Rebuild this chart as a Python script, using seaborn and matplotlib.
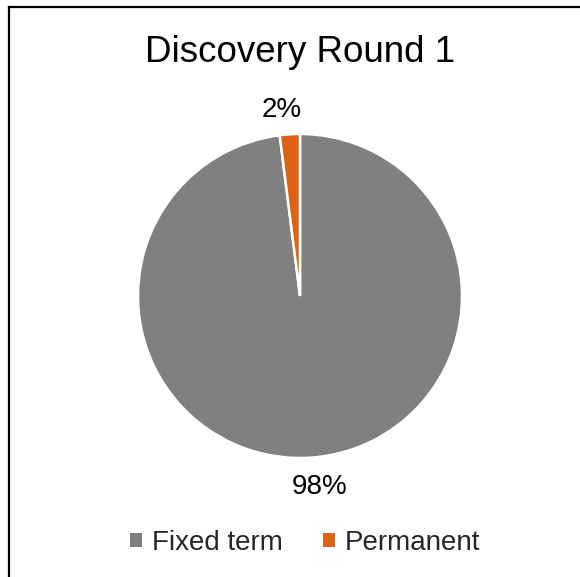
import matplotlib
matplotlib.use("Agg")
import matplotlib.pyplot as plt
from matplotlib.patches import Patch
from matplotlib.lines import Line2D
import seaborn as sns

# Contract type split for the first discovery round
categories = ["Fixed term", "Permanent"]
shares = [98, 2]
colors = ["#808080", "#DC6218"]
title = "Discovery Round 1"

sns.set_theme(style="white")
plt.rcParams["font.family"] = ["Liberation Sans", "DejaVu Sans"]

W, H = 580, 577
fig = plt.figure(figsize=(W / 100, H / 100), dpi=100)
fig.patch.set_facecolor("white")

# Chart area frame (left and top edges visible)
fig.add_artist(Line2D([8.5 / W, 8.5 / W], [0, 1 - 6.5 / H], color="black", lw=1.6,
                      transform=fig.transFigure, solid_capstyle="projecting"))
fig.add_artist(Line2D([8.5 / W, 1], [1 - 6.5 / H, 1 - 6.5 / H], color="black", lw=1.6,
                      transform=fig.transFigure, solid_capstyle="projecting"))

# Pie axes: centre (300, 296) px, radius 162 px
cx, cy, r = 300, 296, 162
ax = fig.add_axes([(cx - r) / W, (H - cy - r) / H, 2 * r / W, 2 * r / H])
wedges, _, autotexts = ax.pie(
    shares, colors=colors, startangle=90, counterclock=False,
    autopct=lambda p: f"{p:.0f}%", pctdistance=1.18,
    wedgeprops=dict(edgecolor="white", linewidth=1.8),
    textprops=dict(fontsize=20, color="black"),
)
for t in autotexts:
    t.set_clip_on(False)
# nudge labels outward horizontally, away from the vertical seam
autotexts[0].set_x(autotexts[0].get_position()[0] + 0.05)
autotexts[1].set_x(autotexts[1].get_position()[0] - 0.04)
autotexts[1].set_y(autotexts[1].get_position()[1] - 0.03)
ax.set_xlim(-1, 1)
ax.set_ylim(-1, 1)
ax.set_aspect("equal")
ax.axis("off")

fig.text(cx / W, 1 - 52 / H, title, ha="center", va="center", fontsize=26.5, color="black")

handles = [Patch(facecolor=c, edgecolor="none", label=l) for c, l in zip(colors, categories)]
fig.legend(handles=handles, loc="center", bbox_to_anchor=(305 / W, 1 - 543 / H), ncol=2,
           frameon=False, fontsize=20, handlelength=0.42, handleheight=0.42,
           handletextpad=0.35, columnspacing=1.45)

fig.savefig("out.png", dpi=100, facecolor="white")
